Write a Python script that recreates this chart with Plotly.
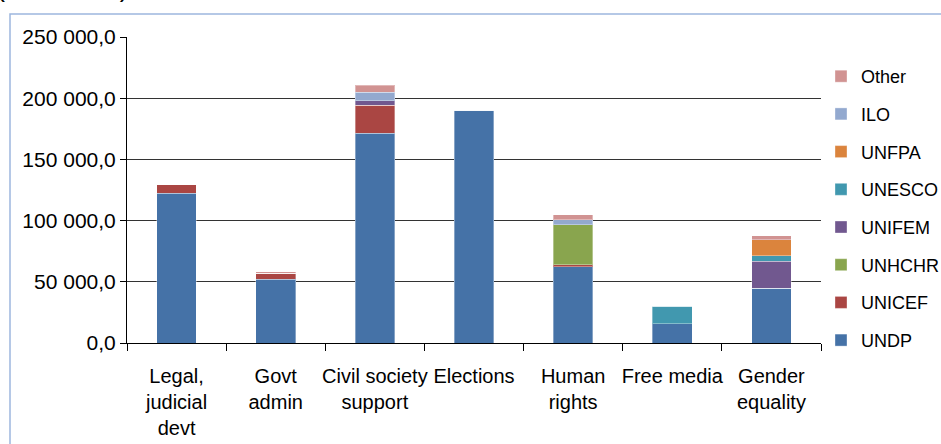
import plotly.graph_objects as go

categories = ["Legal,<br>judicial<br>devt", "Govt<br>admin", "Civil society<br>support",
              "Elections", "Human<br>rights", "Free media", "Gender<br>equality"]

undp    = [122300, 52200, 171500, 190000, 62200, 15700, 44900]
unicef  = [7000, 4900, 22600, 0, 1700, 0, 0]
unhchr  = [0, 0, 0, 0, 32600, 0, 0]
unifem  = [0, 0, 3800, 0, 0, 0, 21700]
unesco  = [0, 0, 0, 0, 0, 14200, 4600]
unfpa   = [0, 0, 0, 0, 0, 0, 13300]
ilo     = [0, 0, 6800, 0, 4300, 0, 0]
other   = [0, 1100, 6000, 0, 3800, 0, 3300]

series = [
    ("UNDP", undp, "#4572A7"),
    ("UNICEF", unicef, "#AA4643"),
    ("UNHCHR", unhchr, "#89A54E"),
    ("UNIFEM", unifem, "#71588F"),
    ("UNESCO", unesco, "#4198AF"),
    ("UNFPA", unfpa, "#DB843D"),
    ("ILO", ilo, "#93A9CF"),
    ("Other", other, "#D19392"),
]

tick_vals = [0, 50000, 100000, 150000, 200000, 250000]
tick_text = ["0,0", "50 000,0", "100 000,0", "150 000,0", "200 000,0", "250 000,0"]

fig = go.Figure()
n = len(series)
for i, (name, vals, col) in enumerate(series):
    fig.add_trace(go.Bar(
        x=categories, y=vals, name=name, legendgroup=name, legendrank=n - i,
        marker=dict(color=col, line=dict(color="rgba(255,255,255,0.35)", width=1)),
    ))

W, H = 941, 444
L, R, T, B = 127, 120, 37, 101
pw, ph = W - L - R, H - T - B

def px_x(px):
    return (px - L) / pw

def px_y(py):
    return (H - B - py) / ph

fig.update_layout(
    width=W, height=H,
    margin=dict(l=L, r=R, t=T, b=B, pad=0, autoexpand=False),
    barmode="stack", bargap=0.6,
    plot_bgcolor="white", paper_bgcolor="white",
    font=dict(family="Liberation Sans, Arial, sans-serif", color="black"),
    legend=dict(
        x=1.0, y=px_y(58), xanchor="left", yanchor="top",
        traceorder="grouped", tracegroupgap=11.3,
        font=dict(size=18, color="black"),
        bgcolor="rgba(0,0,0,0)",
    ),
    xaxis=dict(
        showline=True, linecolor="black", linewidth=1,
        ticks="outside", ticklen=7, tickcolor="black", tickson="boundaries",
        tickfont=dict(size=20, color="black"), tickangle=0,
        ticklabelstandoff=15, automargin=False,
        showgrid=False,
    ),
    yaxis=dict(
        range=[0, 250000], tickvals=tick_vals, ticktext=tick_text,
        showline=True, linecolor="black", linewidth=1,
        ticks="outside", ticklen=6, tickcolor="black",
        tickfont=dict(size=21, color="black"), automargin=False,
        showgrid=True, gridcolor="#333333", gridwidth=1,
        zeroline=True, zerolinecolor="black", zerolinewidth=1,
    ),
    shapes=[dict(
        type="rect", xref="paper", yref="paper",
        x0=px_x(10), y0=px_y(14), x1=px_x(W + 20), y1=px_y(H + 20),
        line=dict(color="#9DB7DE", width=1.5), layer="below",
    )],
    annotations=[dict(
        text="(USD '000)", xref="paper", yref="paper",
        x=px_x(0), y=px_y(4), xanchor="left", yanchor="bottom", xshift=-6,
        showarrow=False, font=dict(size=27, color="black"),
    )],
)

fig.write_html("out.html")
